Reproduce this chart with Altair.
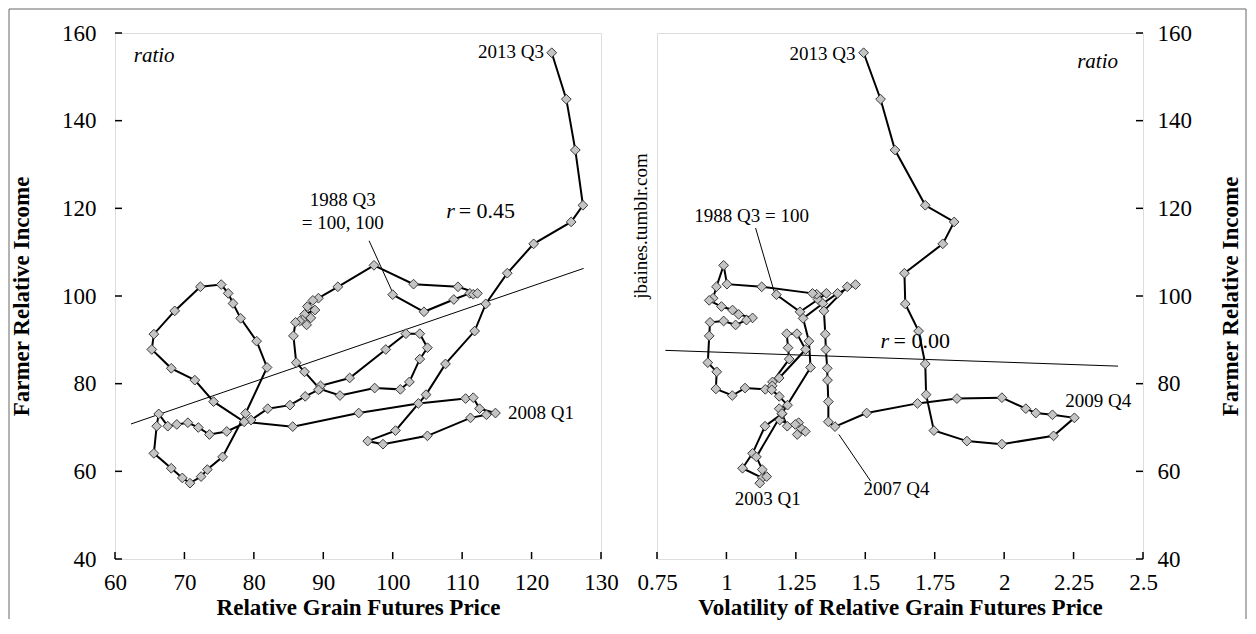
import altair as alt
import pandas as pd

FONT = "Liberation Serif"

# ---------------- data ----------------
quarter = list(range(1, 95))
income = [100.3, 96.4, 99.2, 100.6, 100.4, 100.6, 102.1, 102.7, 107.0, 102.1,
          99.5, 99.0, 97.6, 96.8, 95.8, 95.0, 94.5, 93.4, 94.3, 94.0,
          90.9, 84.8, 82.7, 78.8, 77.3, 79.0, 78.7, 80.4, 85.6, 88.2,
          91.4, 91.4, 87.8, 81.3, 79.5, 78.6, 77.1, 75.1, 74.3, 71.7,
          69.1, 68.4, 70.0, 71.1, 70.7, 70.3, 73.1, 70.3, 64.1, 60.7,
          58.5, 57.3, 58.8, 60.4, 63.3, 73.2, 83.7, 89.7, 94.9, 98.3,
          100.6, 102.6, 102.1, 96.6, 91.3, 87.8, 83.5, 80.8, 75.9, 71.3,
          70.2, 73.3, 75.5, 76.6, 76.8, 74.3, 73.3, 72.9, 72.2, 68.1,
          66.2, 66.9, 69.3, 77.5, 84.5, 92.0, 98.2, 105.2, 111.9, 116.9,
          120.7, 133.3, 144.9, 155.5]
price = [100.0, 104.5, 108.8, 111.1, 111.6, 112.2, 109.4, 103.0, 97.3, 92.1,
         89.3, 88.5, 87.7, 88.8, 87.3, 88.2, 87.0, 87.6, 86.6, 86.0,
         85.7, 86.1, 87.3, 89.5, 92.4, 97.4, 101.1, 102.4, 103.9, 105.0,
         103.9, 101.9, 99.0, 93.8, 89.6, 89.3, 87.4, 85.2, 82.0, 79.6,
         76.1, 73.6, 72.0, 70.5, 68.9, 67.6, 66.3, 66.0, 65.6, 68.1,
         69.7, 70.8, 72.4, 73.3, 75.5, 78.8, 81.9, 80.4, 78.1, 77.0,
         76.3, 75.3, 72.3, 68.6, 65.6, 65.3, 68.1, 71.5, 74.2, 78.6,
         85.6, 95.1, 103.7, 110.5, 111.6, 112.5, 114.8, 113.5, 111.2, 105.0,
         98.6, 96.4, 100.4, 104.8, 107.6, 111.8, 113.4, 116.5, 120.3, 125.7,
         127.4, 126.3, 125.0, 122.9]
vol = [1.180, 1.265, 1.330, 1.360, 1.325, 1.310, 1.127, 1.002, 0.990, 0.964,
       0.952, 0.938, 0.982, 1.022, 1.044, 1.094, 1.072, 1.033, 0.990, 0.941,
       0.938, 0.933, 0.965, 0.962, 1.021, 1.067, 1.140, 1.166, 1.226, 1.222,
       1.217, 1.254, 1.285, 1.190, 1.165, 1.163, 1.190, 1.220, 1.190, 1.192,
       1.284, 1.255, 1.266, 1.260, 1.248, 1.219, 1.200, 1.139, 1.094, 1.058,
       1.129, 1.120, 1.145, 1.129, 1.108, 1.200, 1.303, 1.297, 1.276, 1.347,
       1.400, 1.465, 1.435, 1.351, 1.356, 1.358, 1.363, 1.364, 1.367, 1.367,
       1.391, 1.505, 1.688, 1.830, 1.992, 2.078, 2.114, 2.174, 2.253, 2.178,
       1.992, 1.866, 1.747, 1.719, 1.716, 1.692, 1.644, 1.641, 1.779, 1.820,
       1.716, 1.607, 1.555, 1.494]

left_x_ticks = [60, 70, 80, 90, 100, 110, 120, 130]
right_x_ticks = [0.75, 1.0, 1.25, 1.5, 1.75, 2.0, 2.25, 2.5]
y_ticks = [40, 60, 80, 100, 120, 140, 160]

# fitted lines (end points)
left_fit_x = [62.3, 127.5]
left_fit_y = [70.8, 106.3]
right_fit_x = [0.78, 2.41]
right_fit_y = [87.6, 84.0]

# annotations
left_note_text = ["2013 Q3", "1988 Q3", "= 100, 100", "2008 Q1", "= 0.45"]
left_note_x = [121.8, 92.8, 92.8, 116.6, 109.5]
left_note_y = [155.7, 121.9, 116.7, 73.3, 119.4]
left_note_align = ["right", "center", "center", "left", "left"]
left_ital_text = ["ratio", "r"]
left_ital_x = [62.7, 107.7]
left_ital_y = [154.8, 119.4]
left_ital_size = [21, 22]
left_ptr_x = [96.6, 99.9]
left_ptr_y = [112.6, 101.1]

right_note_text = ["2013 Q3", "1988 Q3 = 100", "2003 Q1", "2009 Q4", "2007 Q4", "= 0.00"]
right_note_x = [1.465, 1.091, 1.149, 2.220, 1.494, 1.602]
right_note_y = [155.1, 118.3, 53.7, 76.0, 56.0, 89.7]
right_note_align = ["right", "center", "center", "left", "left", "left"]
right_ital_text = ["ratio", "r"]
right_ital_x = [2.263, 1.555]
right_ital_y = [153.4, 89.7]
right_ptr_id = [1, 1, 2, 2]
right_ptr_x = [1.105, 1.172, 1.405, 1.519]
right_ptr_y = [115.5, 101.0, 68.4, 57.8]

# ---------------- build ----------------
W, H = 486, 526
df = pd.DataFrame({"t": quarter, "income": income, "price": price, "vol": vol})

y_scale = alt.Scale(domain=[40, 160], nice=False, zero=False)
xl_scale = alt.Scale(domain=[60, 130], nice=False, zero=False)
xr_scale = alt.Scale(domain=[0.75, 2.5], nice=False, zero=False)

axis_common = dict(ticks=False, domain=False, grid=False, labelFont=FONT, titleFont=FONT,
                   labelFontSize=23, titleFontSize=23, titleFontWeight="bold",
                   labelColor="black", titleColor="black", labelFlush=False,
                   labelOverlap=False)

ax_xl = alt.Axis(values=left_x_ticks, format="d", title="Relative Grain Futures Price",
                 labelPadding=12, titlePadding=2, **axis_common)
ax_xr = alt.Axis(values=right_x_ticks, format=".2~f", title="Volatility of Relative Grain Futures Price",
                 labelPadding=12, titlePadding=2, **axis_common)
ax_yl = alt.Axis(values=y_ticks, format="d", title="Farmer Relative Income", orient="left",
                 labelPadding=19, titlePadding=28, **axis_common)
ax_yr = alt.Axis(values=y_ticks, format="d", title="Farmer Relative Income", orient="right",
                 labelPadding=14, titlePadding=28, titleAngle=270, titleBaseline="top",
                 **axis_common)

XL = alt.X("price:Q", scale=xl_scale, axis=ax_xl)
YL = alt.Y("income:Q", scale=y_scale, axis=ax_yl)
XR = alt.X("vol:Q", scale=xr_scale, axis=ax_xr)
YR = alt.Y("income:Q", scale=y_scale, axis=ax_yr)


def panel(xfield, X, Y, ticks_x, fit_x, fit_y, note_text, note_x, note_y, note_align,
          ital_text, ital_x, ital_y, ital_size, ptr_id, ptr_x, ptr_y, yticks_right, extra=None):
    layers = []
    fit = pd.DataFrame({xfield: fit_x, "income": fit_y})
    layers.append(alt.Chart(fit).mark_line(color="black", strokeWidth=1).encode(x=X, y=Y))
    ptr = pd.DataFrame({xfield: ptr_x, "income": ptr_y, "id": ptr_id})
    layers.append(alt.Chart(ptr).mark_line(color="black", strokeWidth=1).encode(
        x=X, y=Y, detail="id:N"))
    layers.append(alt.Chart(df).mark_line(color="black", strokeWidth=2).encode(
        x=X, y=Y, order="t:Q"))
    layers.append(alt.Chart(df).mark_point(shape="diamond", filled=True, fill="#c4c4c4",
                                           stroke="#3a3a3a", strokeWidth=1, size=95,
                                           opacity=1, fillOpacity=1).encode(x=X, y=Y))
    # inward ticks
    tx = pd.DataFrame({xfield: ticks_x})
    layers.append(alt.Chart(tx).mark_rule(color="black", strokeWidth=1.5).encode(
        x=X, y=alt.value(H), y2=alt.value(H - 7)))
    ty = pd.DataFrame({"income": y_ticks})
    if yticks_right:
        layers.append(alt.Chart(ty).mark_rule(color="black", strokeWidth=1.5).encode(
            y=Y, x=alt.value(W), x2=alt.value(W - 7)))
    else:
        layers.append(alt.Chart(ty).mark_rule(color="black", strokeWidth=1.5).encode(
            y=Y, x=alt.value(0), x2=alt.value(7)))
    notes = pd.DataFrame({xfield: note_x, "income": note_y, "label": note_text, "al": note_align})
    for al in ["left", "center", "right"]:
        sub = notes[notes["al"] == al]
        if len(sub):
            layers.append(alt.Chart(sub).mark_text(font=FONT, fontSize=19,
                                                   align=al, baseline="middle", color="black").encode(
                x=X, y=Y, text="label:N"))
    ital = pd.DataFrame({xfield: ital_x, "income": ital_y, "label": ital_text})
    for i in range(len(ital)):
        layers.append(alt.Chart(ital.iloc[[i]]).mark_text(
            font=FONT, fontSize=int(ital_size[i]), fontStyle="italic", align="left",
            baseline="middle", color="black").encode(x=X, y=Y, text="label:N"))
    if extra is not None:
        layers.extend(extra)
    return alt.layer(*layers).properties(width=W, height=H)


border = [
    alt.Chart(pd.DataFrame({"a": [0]})).mark_rule(color="#666666", strokeWidth=1).encode(
        x=alt.value(-106), x2=alt.value(1131), y=alt.value(-24)),
    alt.Chart(pd.DataFrame({"a": [0]})).mark_rule(color="#666666", strokeWidth=1).encode(
        x=alt.value(-106), y=alt.value(-24), y2=alt.value(586)),
    alt.Chart(pd.DataFrame({"a": [0]})).mark_rule(color="#666666", strokeWidth=1).encode(
        x=alt.value(1131), y=alt.value(-24), y2=alt.value(586)),
]

left = panel("price", XL, YL, left_x_ticks, left_fit_x, left_fit_y,
             left_note_text[:4], left_note_x[:4], left_note_y[:4], left_note_align[:4],
             left_ital_text, left_ital_x, left_ital_y, left_ital_size,
             [1, 1], left_ptr_x, left_ptr_y, False,
             extra=border + [alt.Chart(pd.DataFrame({"price": [left_note_x[4]], "income": [left_note_y[4]],
                                                      "label": [left_note_text[4]]})).mark_text(
                 font=FONT, fontSize=22, align="left", baseline="middle", color="black").encode(
                 x=XL, y=YL, text="label:N")])

right = panel("vol", XR, YR, right_x_ticks, right_fit_x, right_fit_y,
              right_note_text[:5], right_note_x[:5], right_note_y[:5], right_note_align[:5],
              right_ital_text, right_ital_x, right_ital_y, [21, 22],
              right_ptr_id, right_ptr_x, right_ptr_y, True,
              extra=[alt.Chart(pd.DataFrame({"vol": [right_note_x[5]], "income": [right_note_y[5]],
                                             "label": [right_note_text[5]]})).mark_text(
                  font=FONT, fontSize=22, align="left", baseline="middle", color="black").encode(
                  x=XR, y=YR, text="label:N"),
                  alt.Chart(pd.DataFrame({"a": [0]})).mark_text(
                      font=FONT, fontSize=19, angle=270, align="center", baseline="middle",
                      color="black").encode(x=alt.value(-16), y=alt.value(193),
                                            text=alt.value("jbaines.tumblr.com"))])

chart = alt.hconcat(left, right, spacing=56, bounds="flush").properties(
    padding={"left": 0, "top": 0, "right": 0, "bottom": 0}
).configure_view(stroke="black", strokeWidth=2).configure(background="white")

chart.save("out.html", embed_options={"renderer": "svg", "actions": False})
